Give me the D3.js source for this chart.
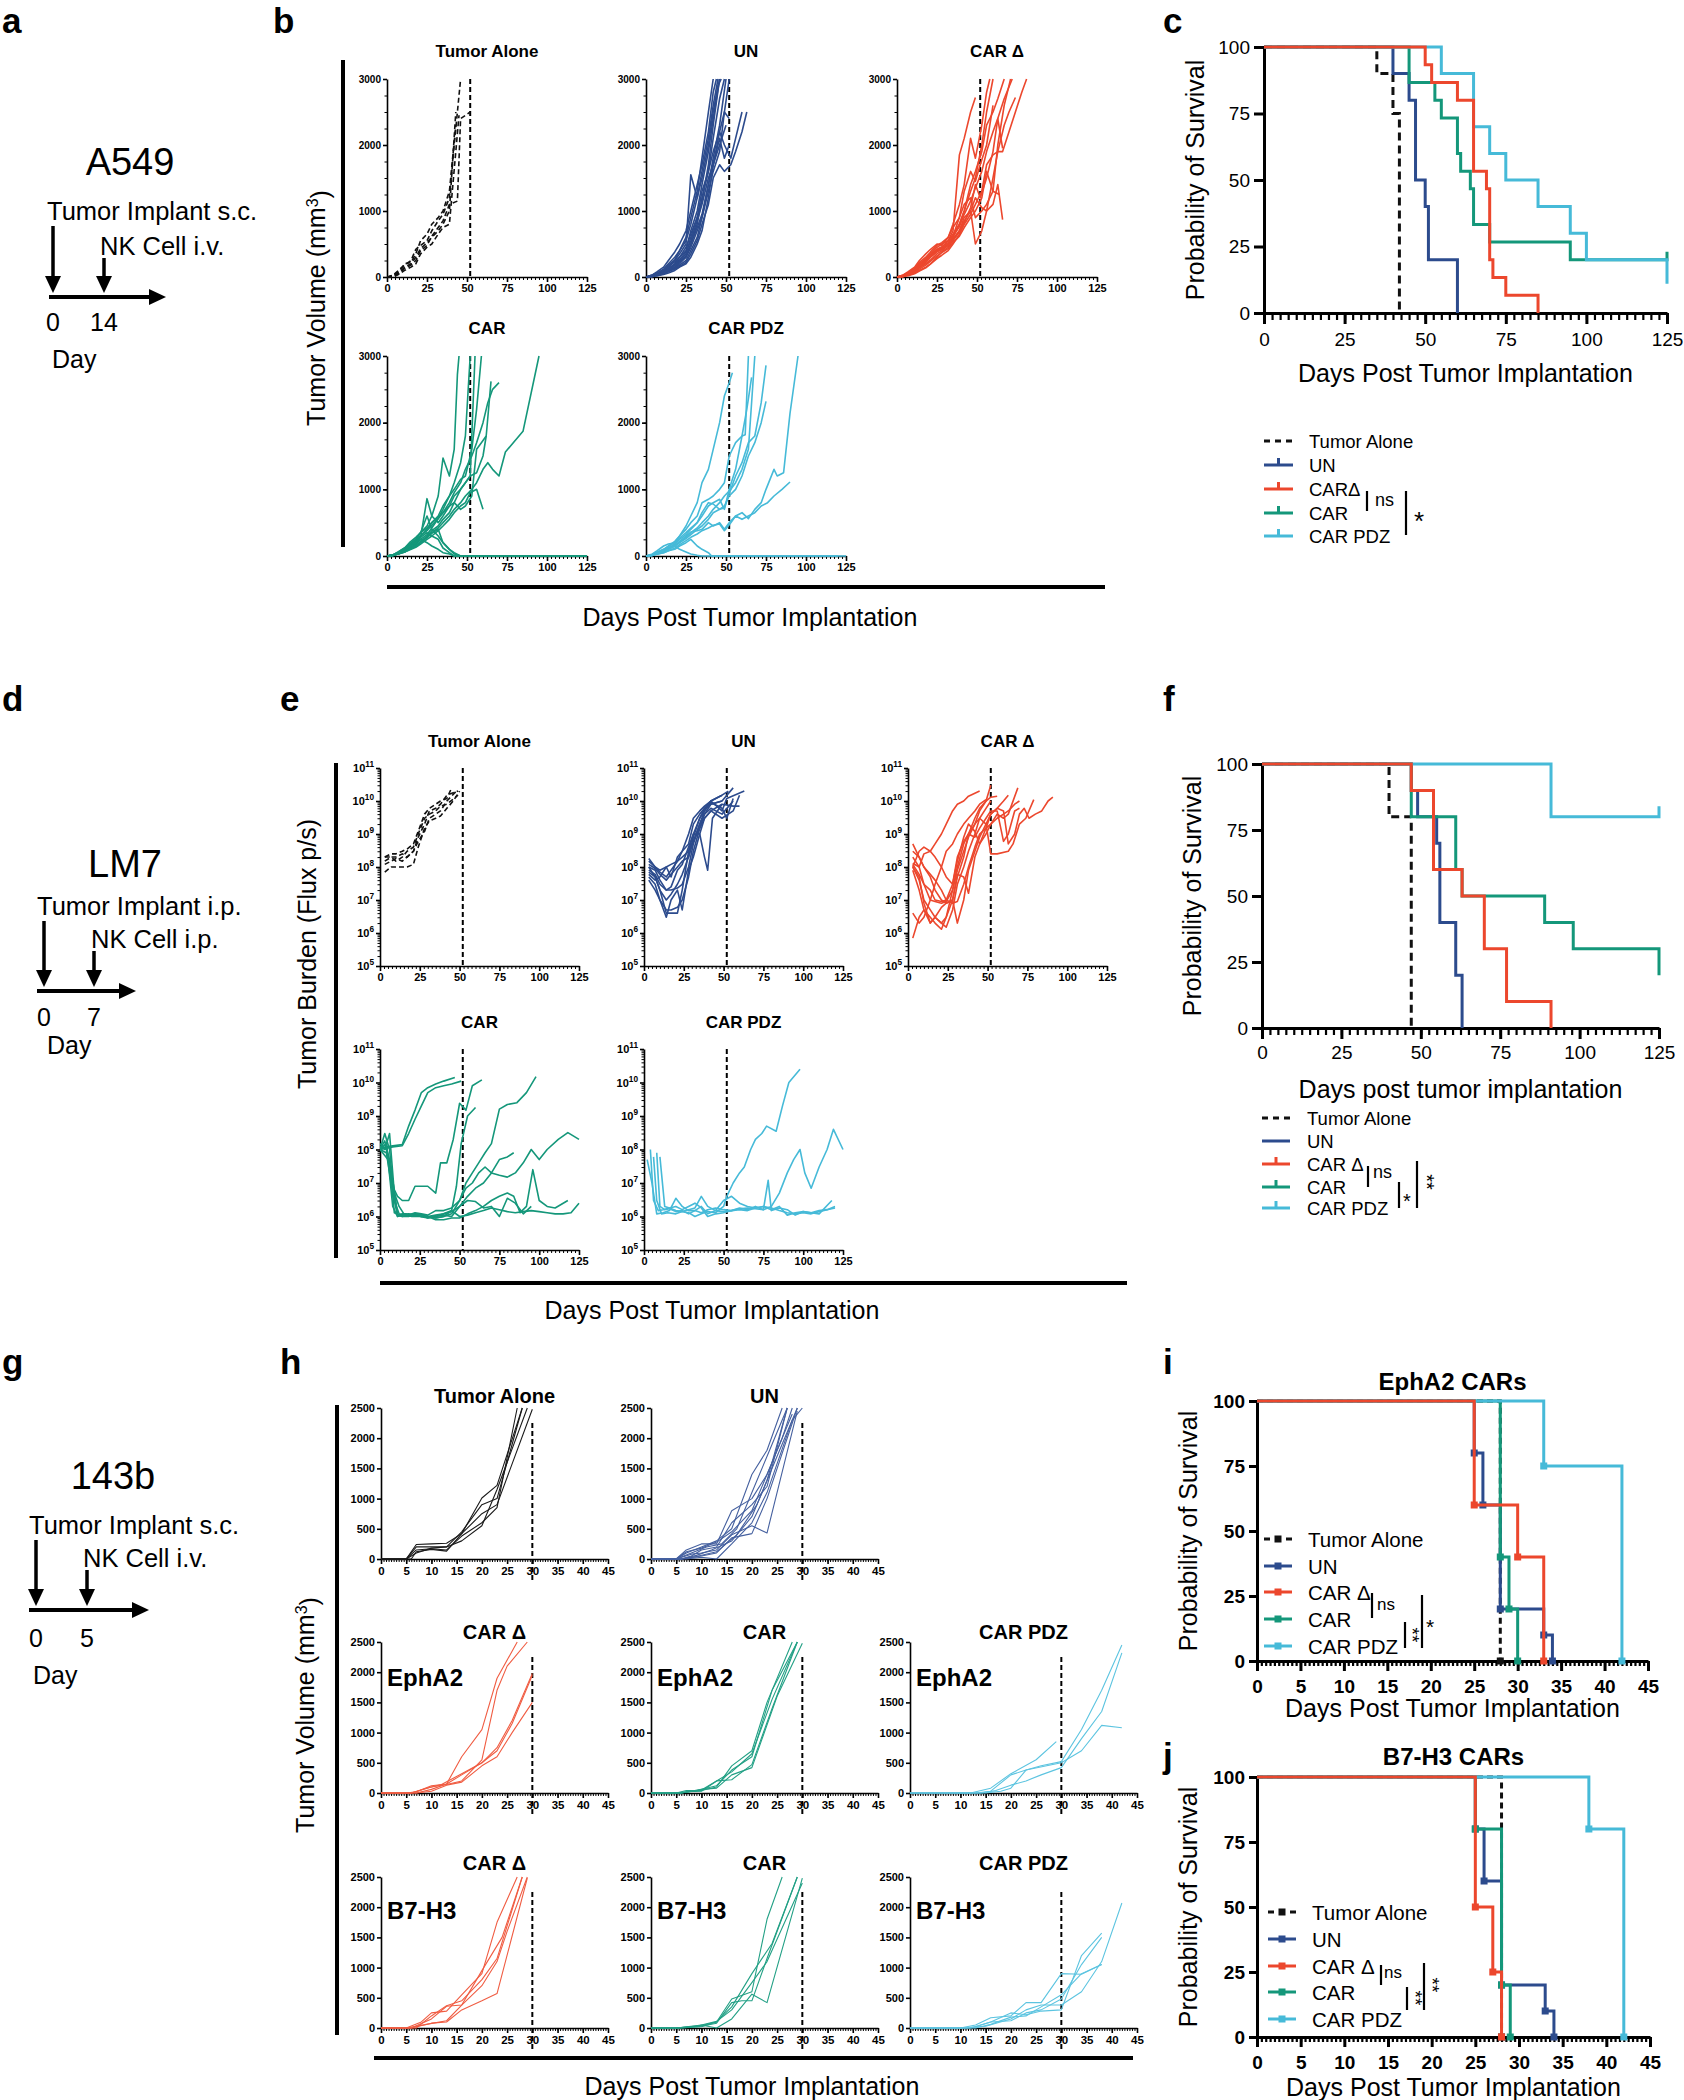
<!DOCTYPE html>
<html><head><meta charset="utf-8">
<script src="https://cdn.jsdelivr.net/npm/d3@7"></script>
<style>body{margin:0;background:#fff}svg{display:block}</style>
</head><body>
<svg id="fig" width="1684" height="2100"></svg>
<script>
// ================= DATA =================
const groupNames = ["Tumor Alone","UN","CAR Δ","CAR","CAR PDZ"];
const bDayTicks = [0,25,50,75,100,125];
const bVolTicks = [0,1000,2000,3000];
const eFluxTicks = [1e5,1e6,1e7,1e8,1e9,1e10,1e11];
const hDayTicks = [0,5,10,15,20,25,30,35,40,45];
const hVolTicks = [0,500,1000,1500,2000,2500];
const survPctTicks = [0,25,50,75,100];
const survDayTicksLong = [0,25,50,75,100,125];
const survDayTicksShort = [0,5,10,15,20,25,30,35,40,45];

// ---- panel b: A549 tumor volume (mm3) [day, volume]
const bTA = [
 [[0,0],[4,30],[8,120],[11,180],[15,250],[18,420],[21,480],[25,550],[28,700],[32,850],[35,950],[39,1200],[42,2000],[46,3000]],
 [[0,0],[4,10],[8,80],[11,150],[15,200],[18,300],[21,430],[25,520],[28,600],[32,700],[35,800],[39,1000],[43,2500]],
 [[0,0],[5,20],[8,60],[11,130],[15,180],[18,250],[21,400],[25,480],[28,620],[32,750],[35,850],[39,1100],[44,1150],[46,2400],[52,2500]],
 [[0,0],[4,20],[8,100],[11,200],[15,220],[18,350],[21,550],[25,650],[28,800],[32,900],[35,1000],[39,1300],[43,2300]],
 [[0,0],[4,0],[8,50],[11,100],[15,150],[18,200],[21,350],[25,450],[28,500],[32,650],[35,750],[39,800],[43,1900],[45,2450]]
];
const bUN = [
 [[0,0],[4,30],[7,60],[11,120],[14,200],[18,300],[21,400],[25,600],[28,900],[32,1300],[35,1800],[39,2500],[42,3000]],
 [[0,0],[4,20],[7,50],[11,100],[14,150],[18,250],[21,350],[25,500],[28,1550],[32,1200],[35,1600],[39,2100],[42,2600],[45,3000]],
 [[0,0],[4,10],[7,40],[11,80],[14,120],[18,200],[21,300],[25,400],[28,700],[32,1000],[35,1400],[39,1900],[42,2400],[46,3000]],
 [[0,0],[4,20],[7,30],[11,70],[14,100],[18,150],[21,220],[25,320],[28,500],[32,800],[35,1200],[39,1600],[42,2100],[46,2700],[49,3000]],
 [[0,0],[4,10],[7,30],[11,60],[14,100],[18,130],[21,180],[25,250],[28,400],[32,600],[35,900],[39,1400],[42,1800],[46,2300],[50,3000]],
 [[0,0],[4,30],[7,80],[11,150],[14,250],[18,380],[21,500],[25,700],[28,1000],[32,1400],[35,1700],[39,2200],[42,2800],[44,3000]],
 [[0,0],[4,10],[7,20],[11,50],[14,80],[18,120],[21,160],[25,220],[28,350],[32,550],[35,800],[39,1100],[42,1500],[46,1700],[49,1600],[53,1700],[56,1900],[60,2200],[63,2500]],
 [[0,0],[4,20],[7,50],[11,90],[14,160],[18,230],[21,300],[25,450],[28,650],[32,900],[35,1300],[39,1600],[42,1900],[46,2200],[49,2000],[53,1800],[56,2100],[60,2500]],
 [[0,0],[4,10],[7,40],[11,70],[14,130],[18,200],[21,260],[25,380],[28,550],[32,850],[35,1100],[39,1500],[42,1700],[46,2000],[50,2300]],
 [[0,0],[4,20],[7,40],[11,80],[14,120],[18,180],[21,250],[25,300],[28,450],[32,700],[35,900],[39,1300],[42,1600],[46,1900],[49,2500],[52,2400]],
 [[0,0],[4,30],[7,60],[11,100],[14,180],[18,260],[21,400],[25,550],[28,800],[32,1200],[35,1500],[39,2000],[42,2500],[45,2900],[47,3000]],
 [[0,0],[4,10],[7,20],[11,40],[14,60],[18,100],[21,150],[25,200],[28,300],[32,500],[35,700],[39,1200],[42,1700],[46,2200],[49,2500],[52,3000]],
 [[0,0],[4,20],[7,30],[11,60],[14,90],[18,140],[21,200],[25,300],[28,500],[32,750],[35,950],[39,1400],[42,1700],[46,2100],[49,1800],[52,2000]],
 [[0,0],[4,15],[7,35],[11,65],[14,110],[18,170],[21,240],[25,350],[28,600],[32,900],[35,1150],[39,1700],[42,2300],[46,3000]]
];
const bCD = [
 [[0,0],[4,20],[7,60],[11,120],[14,200],[18,280],[21,350],[25,450],[28,500],[32,550],[35,700],[39,1850],[42,2100],[46,2500],[49,2720]],
 [[0,0],[4,10],[7,40],[11,80],[14,150],[18,220],[21,300],[25,380],[28,420],[32,500],[35,600],[39,800],[42,1000],[46,1300],[49,1500],[53,2000],[56,2500],[60,3000]],
 [[0,0],[4,30],[7,80],[11,150],[14,250],[18,350],[21,420],[25,500],[28,480],[32,600],[35,750],[39,900],[42,1100],[46,1200],[49,900],[53,1000],[56,1100],[60,1300],[63,2000],[67,2600],[71,3000]],
 [[0,0],[4,10],[7,30],[11,60],[14,100],[18,150],[21,200],[25,300],[28,380],[32,450],[35,550],[39,700],[42,850],[46,1000],[49,500],[53,700],[56,1000],[60,1500],[63,1900],[67,2300],[70,2500],[74,2720]],
 [[0,0],[4,20],[7,50],[11,100],[14,170],[18,250],[21,320],[25,400],[28,450],[32,550],[35,650],[39,800],[42,1000],[46,1400],[49,1600],[53,1900],[56,2300],[60,2500],[63,2700],[67,3000]],
 [[0,0],[4,10],[7,20],[11,50],[14,90],[18,140],[21,200],[25,280],[28,330],[32,400],[35,500],[39,650],[42,800],[46,950],[49,1100],[53,1300],[56,1700],[60,1850],[63,1900],[66,1900],[70,2200],[74,2500],[78,2800],[81,3000]],
 [[0,0],[4,30],[7,70],[11,130],[14,220],[18,300],[21,380],[25,480],[28,520],[32,600],[35,800],[39,1100],[42,1400],[46,2100],[49,1800],[53,2300],[56,2800],[58,3000]],
 [[0,0],[4,20],[7,40],[11,90],[14,140],[18,200],[21,260],[25,350],[28,400],[32,480],[35,580],[39,700],[42,900],[46,1000],[49,1200],[53,1050],[56,1000],[60,1100],[63,1400],[66,870]],
 [[0,0],[4,15],[7,45],[11,100],[14,180],[18,260],[21,340],[25,420],[28,460],[32,520],[35,620],[39,760],[42,950],[46,1150],[49,1350],[53,1600],[56,1900],[60,2200],[63,2400],[67,2700],[72,3000]],
 [[0,0],[4,25],[7,55],[11,110],[14,190],[18,270],[21,330],[25,410],[28,440],[32,500],[35,620],[39,900],[42,1300],[46,1600],[49,1450],[52,1700],[56,2000],[60,2600]],
 [[0,0],[4,10],[7,35],[11,70],[14,120],[18,180],[21,240],[25,320],[28,370],[32,430],[35,520],[39,620],[42,750],[46,900],[49,1000],[53,1200],[56,1600],[60,1300],[64,1250]],
 [[0,0],[4,20],[7,50],[11,110],[14,160],[18,240],[21,310],[25,390],[28,420],[32,480],[35,560],[39,680],[42,820],[46,1050],[49,1400],[52,1200],[56,1500],[60,1900],[63,2400],[66,1950]]
];
const bCAR = [
 [[0,0],[4,20],[7,60],[11,120],[14,180],[18,250],[21,350],[25,450],[28,600],[32,900],[35,1470],[39,1200],[42,1600],[44,2720],[45,3000]],
 [[0,0],[4,10],[7,40],[11,80],[14,120],[18,180],[21,250],[25,320],[28,420],[32,560],[35,700],[39,900],[42,1100],[46,1400],[49,1800],[52,3000]],
 [[0,0],[4,15],[7,40],[11,90],[14,140],[18,200],[21,300],[25,400],[28,500],[32,600],[35,750],[39,900],[42,1000],[46,1150],[49,1200],[53,1600],[56,2200],[59,3000]],
 [[0,0],[4,20],[7,50],[11,100],[14,160],[18,220],[21,280],[25,860],[28,600],[32,500],[35,600],[39,750],[42,800],[46,700],[49,750],[53,900],[56,1600],[59,1700],[62,1800],[65,2620]],
 [[0,0],[4,10],[7,30],[11,60],[14,100],[18,150],[21,200],[25,280],[28,350],[32,420],[35,500],[39,600],[42,700],[46,800],[49,900],[53,1000],[56,1100],[60,1300],[63,1400],[66,1300],[70,1200],[74,1560],[85,1870],[95,3000]],
 [[0,0],[4,10],[7,30],[11,80],[14,150],[18,250],[21,350],[25,600],[28,400],[32,300],[35,200],[39,100],[42,30],[46,0],[125,0]],
 [[0,0],[4,20],[7,50],[11,100],[14,150],[18,200],[21,250],[25,200],[28,150],[32,100],[35,50],[39,30],[42,0],[125,0]],
 [[0,0],[4,10],[7,30],[11,60],[14,90],[18,130],[21,180],[25,250],[28,300],[32,380],[35,450],[39,550],[42,650],[46,750],[49,800],[52,950],[56,1000],[60,700]],
 [[0,0],[4,20],[7,50],[11,100],[14,170],[18,240],[21,300],[25,380],[28,460],[32,560],[35,650],[39,800],[42,950],[46,1100],[49,1300],[53,1500],[56,1700],[60,2000],[63,2300],[66,2500],[70,2600]],
 [[0,0],[4,15],[7,35],[11,70],[14,110],[18,160],[21,220],[25,300],[28,380],[32,450],[35,550],[39,650],[42,800],[46,1000],[49,1100],[52,1200],[56,1250],[60,1500],[62,1800]],
 [[0,0],[4,20],[7,60],[11,120],[14,200],[18,280],[21,350],[25,420],[28,500],[32,580],[35,650],[39,750],[42,900],[46,1000],[49,1100],[52,1200],[55,3000]],
 [[0,0],[4,10],[7,30],[11,60],[14,100],[18,150],[21,210],[25,280],[28,340],[32,400],[35,200],[39,100],[42,50],[46,0],[125,0]],
 [[0,0],[4,15],[7,40],[11,80],[14,140],[18,200],[21,280],[25,350],[28,300],[32,250],[35,120],[39,50],[42,0],[125,0]]
];
const bPDZ = [
 [[0,0],[4,30],[7,80],[11,150],[14,180],[18,200],[21,300],[25,450],[28,600],[32,800],[35,1100],[39,1300],[42,1600],[46,2000],[49,2400],[52,2600],[54,2750]],
 [[0,0],[4,20],[7,60],[11,100],[14,150],[18,220],[21,300],[25,400],[28,500],[32,600],[35,800],[39,850],[42,900],[46,1000],[49,1100],[52,1500],[56,1700],[60,1800],[62,1820],[64,3000]],
 [[0,0],[4,10],[7,40],[11,80],[14,120],[18,180],[21,250],[25,320],[28,400],[32,500],[35,600],[39,750],[42,800],[46,850],[49,700],[52,1000],[56,1300],[60,1800],[63,2200],[66,2680]],
 [[0,0],[4,20],[7,50],[11,100],[14,140],[18,200],[21,270],[25,350],[28,420],[32,500],[35,650],[39,800],[42,780],[46,700],[49,720],[53,1000],[56,1200],[60,1400],[64,1700],[68,1800],[72,2300],[75,2860]],
 [[0,0],[4,10],[7,30],[11,60],[14,100],[18,150],[21,200],[25,280],[28,350],[32,420],[35,500],[39,600],[42,700],[46,800],[49,900],[53,1000],[56,1100],[60,1300],[64,1600],[68,3000]],
 [[0,0],[4,15],[7,35],[11,70],[14,110],[18,160],[21,220],[25,300],[28,360],[32,380],[35,400],[39,500],[42,450],[46,500],[49,400],[52,500],[56,600],[60,650],[64,560],[68,700],[72,800],[75,1000],[80,1300],[82,1200],[86,1250],[90,2140],[95,3000]],
 [[0,0],[4,10],[7,25],[11,50],[14,80],[18,120],[21,170],[25,230],[28,280],[32,330],[35,380],[39,420],[42,460],[46,480],[49,380],[53,500],[56,600],[60,550],[64,600],[68,650],[72,750],[76,800],[80,900],[85,1000],[90,1110]],
 [[0,0],[4,20],[7,40],[11,80],[14,120],[18,150],[21,100],[25,60],[28,30],[32,10],[35,0],[125,0]],
 [[0,0],[4,10],[7,30],[11,50],[14,80],[18,100],[21,150],[25,200],[28,250],[32,150],[35,100],[39,50],[41,0],[120,0]],
 [[0,0],[4,15],[7,40],[11,70],[14,100],[18,150],[21,200],[25,260],[28,320],[32,400],[35,450],[39,550],[42,650],[46,700],[49,750],[52,900],[56,1000],[60,1200],[64,1500],[68,1700],[72,2000],[75,2320]]
];

// ---- panel c: A549 survival [day, % surviving]
const cTA  = [[0,100],[35,90],[40,75],[42,0]];
const cUN  = [[0,100],[40,90],[45,80],[47,50],[50,40],[51,20],[60,0]];
const cCD  = [[0,100],[50,93.3],[52,86.7],[60,80],[65,53.3],[69,46.7],[70,20],[71,13.3],[75,6.7],[85,0]];
const cCAR = [[0,100],[45,86.7],[53,80],[55,73.3],[60,60],[61,53.3],[64,46.7],[65,33.3],[70,26.7],[95,20],[125,20],[125,23]];
const cPDZ = [[0,100],[55,90],[65,70],[70,60],[75,50],[85,40],[95,30],[100,20],[125,20],[125,11]];

// ---- panel e: LM7 tumor burden (flux p/s) [day, flux]
const eTA = [
 [[3,2e8],[7,2.5e8],[10,2.5e8],[14,3e8],[17,3.5e8],[21,5e8],[24,1.2e9],[28,4e9],[31,6e9],[35,8e9],[38,1e10],[42,1.2e10],[45,2.5e10]],
 [[3,1.5e8],[7,2e8],[10,2e8],[14,2.5e8],[17,2e8],[21,3e8],[24,8e8],[28,2e9],[31,5e9],[35,6e9],[38,8e9],[42,1.5e10],[49,2e10]],
 [[3,7e7],[7,1e8],[10,1e8],[14,1e8],[17,1e8],[21,1.2e8],[24,4e8],[28,1.5e9],[31,2.5e9],[35,3e9],[38,3.5e9],[42,6e9],[46,1e10],[50,2e10]],
 [[3,2e8],[7,2e8],[10,1.5e8],[14,2e8],[17,3e8],[21,4e8],[24,1e9],[28,3e9],[31,4e9],[35,5e9],[38,7e9],[42,8e9],[49,1.5e10]],
 [[3,1.2e8],[7,1.5e8],[10,1.8e8],[14,1.5e8],[17,2e8],[21,3e8],[24,6e8],[28,1.2e9],[31,3e9],[35,4e9],[38,5e9],[42,1e10],[48,2e10]]
];
const eUN = [
 [[3,1.5e8],[7,1e8],[10,7e7],[14,5e7],[17,8e7],[21,1.5e8],[24,3e8],[28,1e9],[31,3e9],[35,5e9],[38,7e9],[42,1e10],[49,1.5e10],[53,2e10]],
 [[3,1e8],[7,5e7],[10,2e7],[14,4e6],[17,4e6],[21,4e6],[24,2e7],[28,3e8],[31,1e9],[35,3e9],[38,6e9],[42,8e9],[49,1e10],[56,2.5e10]],
 [[3,5e7],[7,3e7],[10,1e7],[14,3e6],[17,1e7],[21,2e7],[24,5e6],[28,8e7],[31,2e8],[35,1e9],[38,3e9],[42,5e9],[49,8e9],[56,7e9],[60,7e9]],
 [[3,1.8e8],[7,1e8],[10,8e7],[14,1e8],[17,5e7],[21,2e8],[24,3e8],[28,5e8],[31,2e9],[35,4e9],[38,6e9],[42,1e10],[49,5e9],[52,1.2e10],[63,2e10]],
 [[3,8e7],[7,6e7],[10,3e7],[14,2e7],[17,2e7],[21,2.3e7],[24,3e7],[28,1e8],[31,5e8],[35,2e9],[38,4e9],[42,6e9],[49,4e9],[56,1e10]],
 [[3,6e7],[7,4e7],[10,5e7],[14,1e8],[17,1.2e8],[21,1.5e8],[24,2e8],[28,3e8],[31,6e8],[35,1.5e9],[38,3e9],[42,5e9],[49,3e9],[56,5e9],[60,1.5e10]],
 [[3,1e8],[7,8e7],[10,4e7],[14,2e7],[17,2.5e7],[21,8e7],[24,1.2e8],[28,4e8],[31,1e9],[35,1e9],[38,2e8],[40,8e7],[43,3e9],[49,8e9]],
 [[3,4e7],[7,2e7],[10,1e7],[14,5e6],[17,5e6],[21,6e6],[24,1e7],[28,5e7],[31,3e8],[35,1.5e9],[38,4e9],[42,8e9],[49,1e10]],
 [[3,1.2e8],[7,9e7],[10,6e7],[14,4e7],[17,6e7],[21,1e8],[24,1.5e8],[28,2e8],[31,8e8],[35,3e9],[38,5e9],[42,9e9],[49,6e9],[52,3e9],[56,1.2e10]],
 [[3,7e7],[7,5e7],[10,2e7],[14,1e7],[17,1.5e7],[21,3e7],[24,6e7],[28,2e8],[31,6e8],[35,2e9],[38,5e9],[42,1e10],[49,1.5e10]]
];
const eCD = [
 [[3,1e8],[7,4e7],[10,1e7],[14,5e6],[17,3e6],[21,2e6],[24,3e6],[28,2e7],[31,1e8],[35,5e8],[38,1e9],[42,2e9],[45,5e9],[49,1e10],[52,3e10]],
 [[3,5e8],[7,2e8],[10,1e8],[14,5e7],[17,2e7],[21,1e7],[24,8e6],[28,1e7],[31,5e7],[35,2e8],[38,1e9],[42,3e9],[45,6e9],[49,1e10],[52,1.3e10],[56,1.4e10]],
 [[3,1.3e8],[7,1e8],[10,2.5e8],[14,3e8],[17,5e8],[21,1e9],[24,2e9],[28,5e9],[31,8e9],[35,1e10],[38,1.4e10],[45,2e10]],
 [[3,7e5],[7,3e6],[10,5e6],[14,2e6],[17,3e6],[21,2e6],[24,1.5e6],[28,5e6],[31,3e7],[35,1e8],[38,3e8],[42,1e9],[45,3e9],[49,6e9],[52,1e10]],
 [[3,1e8],[7,3e8],[10,4e8],[14,3e8],[17,2e8],[21,1e8],[24,5e7],[28,3e7],[31,1.5e8],[35,8e8],[38,2e9],[42,1.2e9],[45,5e8],[49,1e9],[52,2e9],[56,4e9],[60,3e9],[63,4e9],[69,2.5e10]],
 [[3,8e7],[7,2e7],[10,5e6],[14,3e6],[17,2e6],[21,1.3e6],[24,3e6],[28,1e7],[31,6e7],[35,5e7],[38,1.6e7],[42,2e8],[45,5e8],[49,1.5e9],[52,4e9],[56,6e9],[60,1e10],[63,1.5e10]],
 [[3,2e8],[7,1e8],[10,3e7],[14,1e7],[17,9e6],[21,8e6],[24,9e6],[28,2e7],[31,8e7],[35,3e8],[38,8e8],[42,2e9],[45,3e9],[49,2e9],[52,2.5e8],[56,2.5e8],[63,3e8],[66,5e8],[70,2e9],[74,3e9],[79,1.1e10]],
 [[3,4e6],[7,2e6],[10,3e6],[14,1e7],[17,3e7],[21,1e8],[24,3e8],[28,5e8],[31,1e9],[35,2e9],[38,3e9],[42,5e9],[45,8e9],[49,1.1e10]],
 [[3,1.2e8],[7,6e7],[10,3e7],[14,2e7],[17,1e7],[21,9e6],[24,1e7],[28,3e7],[31,2e8],[35,6e8],[38,1e9],[42,8e8],[45,1.5e9],[49,3e9],[52,5e9],[56,5e9],[60,6e8],[63,1e9],[67,5e9],[70,6e9]],
 [[3,3e8],[7,2e8],[10,1e8],[14,6e7],[17,4e7],[21,2e7],[24,1e7],[28,8e6],[31,9e6],[35,3e7],[38,1e8],[42,4e8],[45,1e9],[49,1.5e9],[52,2e9],[56,3e9],[60,4e9],[63,5e9],[67,8e9],[70,1e10]],
 [[3,1e8],[7,5e7],[10,8e6],[14,2e6],[17,3e6],[21,6e6],[24,8e6],[28,1e7],[31,2e6],[35,1e7],[38,8e7],[42,3e8],[45,8e8],[49,2e9],[52,4e9],[56,6e9],[60,5e9],[63,5e8],[67,1e9],[70,4e9],[73,6e9],[76,3e9],[80,4e9],[84,5e9],[88,1e10],[91,1.3e10]]
];
const eCAR = [
 [[0,1e8],[4,1.2e8],[8,1.3e8],[14,1.4e8],[18,5e8],[22,1.5e9],[26,5e9],[30,7e9],[35,9e9],[40,1.1e10],[47,1.4e10]],
 [[0,1e8],[4,1.1e8],[8,1.2e8],[14,1.3e8],[18,3e8],[22,8e8],[26,2e9],[30,5e9],[35,7e9],[40,8e9],[45,9e9],[51,1.1e10]],
 [[0,1.5e8],[3,1e8],[6,3e8],[9,5e6],[12,2e6],[15,1.2e6],[18,1.1e6],[22,1.2e6],[26,1e6],[30,1e6],[35,9e5],[40,1e6],[45,1.5e6],[48,8e6],[51,1.5e8],[55,1e9],[60,1.8e9]],
 [[0,1e8],[5,5e7],[8,1.2e7],[11,1.2e6],[14,1e6],[18,1.1e6],[22,1.2e6],[26,1.1e6],[30,1e6],[35,9e5],[40,1e6],[45,1.2e6],[50,3e6],[54,7e6],[58,1e7],[62,2e7],[66,3e7],[70,2e7],[75,5e7],[80,6e7],[84,8e7]],
 [[0,1e8],[4,1.5e8],[7,1e7],[11,4e6],[14,3e6],[18,3e6],[22,8e6],[26,8e6],[30,8e6],[35,5e6],[38,4e7],[42,4e7],[46,2e8],[50,2.4e9],[54,1.5e9],[58,8e9],[64,1.2e10]],
 [[0,1e8],[3,1.8e8],[6,5e7],[9,1.3e6],[12,1.1e6],[16,1.2e6],[20,1.1e6],[25,1.1e6],[30,1e6],[35,8e5],[40,8e5],[45,9e5],[50,9e5],[55,1.2e6],[60,1.5e6],[65,2e6],[70,3e6],[75,4e6],[80,5e6],[84,4e6],[88,1.3e6],[92,2e6],[96,2.5e7],[100,3e6],[105,2e6],[110,1.8e6],[118,3e6]],
 [[0,1.2e8],[4,1e8],[8,1.2e7],[11,1e6],[14,1.2e6],[18,1.1e6],[22,1.3e6],[26,1.2e6],[30,1.1e6],[35,1.5e6],[40,1.5e6],[45,1.8e6],[50,3e6],[54,1e7],[58,2e7],[62,4e7],[66,8e7],[70,1.5e8],[75,1.6e9],[80,2.2e9],[86,2.5e9],[92,5e9],[98,1.5e10]],
 [[0,1e8],[3,3e8],[6,1e8],[9,3e6],[12,1.2e6],[16,1.1e6],[20,1e6],[25,1e6],[30,9e5],[35,1e6],[40,1.1e6],[45,1e6],[50,2e6],[55,4e6],[60,7e6],[65,1e7],[70,2e7],[75,1.7e7],[80,1.5e7],[85,2e7],[90,4e7],[95,1e8],[100,5e7],[105,1e8],[112,2e8],[118,3.2e8],[125,2e8]],
 [[0,1e8],[4,1.5e8],[8,2e6],[11,1e6],[14,1.1e6],[18,1.2e6],[22,1.1e6],[26,1e6],[30,1e6],[35,1.1e6],[40,1.2e6],[45,1.5e6],[50,1e6],[55,1.1e6],[60,1.3e6],[65,1.5e6],[70,1.8e6],[75,1.6e6],[80,1.4e6],[85,1.3e6],[90,1.4e6],[95,1.5e6],[100,1.4e6],[105,1.3e6],[110,1.2e6],[115,1.2e6],[120,1.3e6],[125,2.5e6]],
 [[0,1e8],[4,8e7],[8,5e6],[11,1.1e6],[14,1e6],[18,1e6],[22,1.2e6],[26,1.1e6],[30,9e5],[35,1e6],[40,1.2e6],[45,1.4e6],[50,2e6],[55,3e6],[60,2.8e6],[65,1.8e6],[70,2e6],[75,1e6],[80,3.5e6],[85,2.5e6],[90,1.2e6],[95,2e6]]
];
const ePDZ = [
 [[2,5e7],[5,1e7],[8,1.2e6],[12,1.3e6],[16,1.5e6],[20,3.5e6],[24,2e6],[28,1.5e6],[32,1.5e6],[36,2e6],[40,1.2e6],[45,1.5e6],[50,3e6],[55,4e6],[60,2.5e6],[65,2e6],[70,1.8e6],[75,2e6],[80,1.8e6],[85,1.5e6],[90,1.3e6],[95,1.2e6],[100,1.3e6],[105,1.2e6],[110,1.4e6],[115,1.6e6],[120,2e6]],
 [[4,1e8],[6,3e6],[9,1.5e6],[12,1.6e6],[16,1.8e6],[20,1.5e6],[24,1.4e6],[28,1.6e6],[32,1.8e6],[36,4e6],[40,2e6],[45,1.5e6],[50,1.4e6],[55,1.5e6],[60,1.8e6],[65,1.6e6],[70,2e6],[75,1.6e6],[78,1.2e7],[80,1.5e6],[85,1.8e6],[90,1.6e6],[95,1.1e6],[100,1.4e6],[105,1.3e6],[110,1.2e6],[118,3e6]],
 [[6,6e7],[8,3e6],[11,1.2e6],[15,1.3e6],[20,1.2e6],[24,1.4e6],[28,1.3e6],[32,1e6],[36,1.2e6],[40,1.4e6],[45,1.3e6],[50,2e6],[52,4e6],[56,1e7],[60,2e7],[63,3e7],[67,1e8],[70,2e8],[74,3e8],[77,5e8],[83,3.5e8],[87,2e9],[91,1e10],[98,2.5e10]],
 [[8,8e7],[10,2e6],[13,1.6e6],[16,1.7e6],[20,1.4e6],[24,1.5e6],[28,1.2e6],[32,1.5e6],[36,1.3e6],[40,1.6e6],[45,1.8e6],[50,1.6e6],[55,1.5e6],[60,1.7e6],[65,1.8e6],[70,1.7e6],[75,1.6e6],[80,2e6],[85,5e6],[90,2e7],[94,5e7],[98,1e8],[101,2e7],[105,7e6],[110,3e7],[115,1e8],[119,4e8],[125,1e8]],
 [[10,6e7],[13,2e6],[16,1.8e6],[20,2e6],[24,1.6e6],[28,2e6],[32,2.5e6],[36,1.8e6],[40,1e6],[45,1.2e6],[50,1.3e6],[55,1.5e6],[60,1.6e6],[65,1.5e6],[70,1.8e6],[75,2e6],[80,1.6e6],[85,2e6],[90,1.1e6],[95,1.3e6],[100,1.4e6],[105,1.3e6],[110,1.5e6],[115,1.6e6],[120,1.8e6]]
];

// ---- panel f: LM7 survival
const fTA  = [[0,100],[40,80],[47,0]];
const fUN  = [[0,100],[47,90],[49,80],[55,70],[56,40],[61,20],[63,0]];
const fCD  = [[0,100],[47,90],[54,60],[63,50],[70,30],[77,10],[91,0]];
const fCAR = [[0,100],[47,80],[61,60],[63,50],[89,40],[98,30],[125,20]];
const fPDZ = [[0,100],[91,80],[125,80],[125,84]];

// ---- panel h: 143b tumor volume (mm3)
const hTA = [
 [[0,0],[5,0],[7,240],[10,250],[13,260],[16,420],[20,1010],[23,1220],[28,2500]],
 [[0,0],[5,0],[7,150],[10,170],[13,150],[16,380],[20,600],[23,850],[27,2500]],
 [[0,0],[5,0],[7,100],[10,180],[13,200],[16,450],[20,900],[23,1000],[28,2500]],
 [[0,0],[5,0],[7,200],[10,200],[13,200],[16,300],[20,550],[23,1150],[29,2500]],
 [[0,0],[6,0],[7,120],[10,160],[13,130],[16,420],[20,750],[23,900],[30,2480]]
];
const hUN = [
 [[0,0],[5,0],[7,150],[10,250],[13,250],[16,800],[20,1000],[23,1400],[26,2000],[28,2500]],
 [[0,0],[5,0],[7,100],[10,200],[13,300],[16,500],[20,1400],[23,1800],[26,2500]],
 [[0,0],[6,0],[8,50],[10,150],[13,200],[16,600],[20,900],[23,1200],[27,2500]],
 [[0,0],[5,0],[8,80],[10,100],[13,150],[16,400],[20,550],[23,430],[29,2450]],
 [[0,0],[6,0],[10,50],[13,100],[16,350],[20,420],[23,1000],[29,2500]],
 [[0,0],[5,0],[7,120],[10,180],[13,280],[16,450],[20,800],[24,1600],[28,2400]],
 [[0,0],[6,0],[9,60],[12,150],[16,300],[20,700],[23,1300],[27,2500]],
 [[0,0],[7,0],[10,30],[13,0],[16,250],[20,600],[23,1100],[28,2300],[30,2500]],
 [[0,0],[5,0],[8,100],[11,200],[14,250],[17,500],[20,1100],[24,1900],[27,2500]],
 [[0,0],[6,0],[9,40],[13,120],[17,400],[21,900],[25,1700],[29,2500]]
];
const hCDEph = [
 [[0,0],[5,0],[7,20],[10,120],[13,150],[16,600],[20,1050],[23,1900],[27,2500]],
 [[0,0],[6,0],[8,50],[10,100],[13,140],[16,200],[20,550],[23,1700],[25,2100],[29,2500]],
 [[0,0],[7,0],[10,60],[13,150],[16,300],[20,500],[23,750],[26,1200],[30,1980]],
 [[0,0],[7,0],[10,30],[13,130],[16,180],[20,450],[23,600],[26,1000],[30,1500]],
 [[0,0],[6,0],[9,80],[12,140],[16,320],[20,500],[23,700],[26,1150],[30,1950]]
];
const hCAREph = [
 [[0,0],[5,0],[7,40],[10,40],[13,100],[16,450],[20,700],[23,1500],[28,2500]],
 [[0,0],[6,0],[8,30],[10,50],[13,200],[16,350],[20,650],[24,1550],[29,2500]],
 [[0,0],[5,0],[7,20],[10,30],[13,200],[16,220],[20,470],[24,1400],[29,2500]],
 [[0,0],[6,0],[10,60],[13,80],[16,300],[20,420],[25,1600],[30,2480]],
 [[0,0],[6,0],[9,40],[13,120],[16,380],[20,600],[24,1700],[29,2500]]
];
const hPDZEph = [
 [[0,0],[13,0],[16,30],[20,300],[23,380],[30,500],[34,700],[38,1120],[42,1080]],
 [[0,0],[12,0],[16,80],[20,320],[25,550],[29,850]],
 [[0,0],[14,0],[17,40],[20,130],[23,200],[26,300],[30,420],[34,900],[38,1350],[42,2320]],
 [[0,0],[15,0],[18,30],[20,80],[23,380],[26,450],[30,520],[34,1050],[38,1700],[42,2450]]
];
const hCDB7 = [
 [[0,0],[5,0],[8,100],[10,250],[13,280],[16,550],[20,900],[23,1750],[27,2500]],
 [[0,0],[6,0],[10,150],[13,360],[16,380],[20,700],[23,1100],[25,1600],[29,2500]],
 [[0,0],[7,0],[10,200],[13,370],[16,450],[20,800],[23,1150],[28,2500]],
 [[0,0],[6,0],[10,80],[13,100],[16,300],[20,450],[23,570],[29,2480]],
 [[0,0],[5,0],[9,60],[13,120],[16,380],[20,950],[24,1500],[28,2500]]
];
const hCARB7 = [
 [[0,0],[5,0],[10,40],[13,100],[16,480],[20,600],[23,1800],[26,2500]],
 [[0,0],[6,0],[10,30],[13,80],[16,420],[18,450],[20,450],[23,1150],[29,2500]],
 [[0,0],[5,0],[10,50],[13,0],[16,150],[20,560],[23,420],[30,2480]],
 [[0,0],[6,0],[10,20],[13,100],[16,350],[20,900],[24,1400],[29,2500]],
 [[0,0],[5,0],[9,30],[13,110],[16,300],[20,750],[23,1100],[30,2400]]
];
const hPDZB7 = [
 [[0,0],[10,0],[13,50],[16,170],[20,200],[23,420],[26,420],[30,900],[34,890],[38,1050]],
 [[0,0],[12,0],[16,100],[20,250],[23,220],[26,280],[30,300],[34,1200],[38,1570]],
 [[0,0],[11,0],[15,30],[20,150],[23,300],[26,380],[30,380],[34,600],[38,1100],[42,2070]],
 [[0,0],[13,0],[16,60],[20,180],[23,200],[26,350],[30,550],[34,900],[38,1050]],
 [[0,0],[10,0],[13,20],[16,100],[20,120],[23,250],[26,300],[30,480],[34,1050],[38,1500]]
];

// ---- panels i, j: 143b survival
const iTA  = [[0,100],[28,0]];
const iUN  = [[0,100],[25,80],[26,60],[28,20],[33,10],[34,0]];
const iCD  = [[0,100],[25,60],[30,40],[33,0]];
const iCAR = [[0,100],[28,40],[29,20],[30,0]];
const iPDZ = [[0,100],[33,75],[42,0]];
const jTA  = [[0,100],[28,0]];
const jUN  = [[0,100],[25,80],[26,60],[28,20],[33,10],[34,0]];
const jCD  = [[0,100],[25,50],[27,25],[28,0]];
const jCAR = [[0,100],[25,80],[28,20],[29,0]];
const jPDZ = [[0,100],[38,80],[42,0]];

// ================= DRAWING =================
const FONT = "'Liberation Sans', Arial, Helvetica, sans-serif";
const COL = {ta:"#111111", un:"#2c4b8d", cd:"#ec472d", car:"#14977a", pdz:"#46bad8"};
const HCOL = {ta:"#1a1a1a", un:"#45609f", cd:"#f05c42", car:"#22a085", pdz:"#5cc4e0"};
const svg = d3.select("#fig").attr("font-family", FONT);
svg.append("rect").attr("width",1684).attr("height",2100).attr("fill","#fff");
let clipN = 0;

function txt(x,y,s,o={}){
  const t = svg.append("text").attr("x",x).attr("y",y).text(s)
    .attr("font-size",o.fs||20).attr("font-weight",o.fw||"normal")
    .attr("text-anchor",o.anchor||"start").attr("fill",o.fill||"#000");
  if(o.rot){ t.attr("transform",`rotate(${o.rot},${x},${y})`); }
  if(o.db) t.attr("dominant-baseline",o.db);
  return t;
}
function styleAxis(a, sw, fs, fw){
  a.attr("font-family",FONT);
  a.select(".domain").attr("stroke","#000").attr("stroke-width",sw);
  a.selectAll(".tick line").attr("stroke","#000").attr("stroke-width",sw);
  a.selectAll(".tick text").attr("font-size",fs).attr("font-weight",fw).attr("fill","#000").attr("font-family",FONT);
}
function range(a,b,s){ const r=[]; for(let v=a; v<=b+1e-9; v+=s) r.push(+v.toFixed(3)); return r; }

function spaghetti(p){
  const g = svg.append("g");
  const x = d3.scaleLinear().domain(p.xd).range([p.x0, p.x0+p.w]);
  const y = (p.log ? d3.scaleLog() : d3.scaleLinear()).domain(p.yd).range([p.yb, p.yt]);
  if(p.xMinor){
    const m = g.append("g").attr("transform",`translate(0,${p.yb})`)
      .call(d3.axisBottom(x).tickValues(p.xMinor).tickSize(p.minT||3).tickFormat("").tickSizeOuter(0));
    m.select(".domain").remove(); m.selectAll("line").attr("stroke","#000").attr("stroke-width",1);
  }
  if(p.yMinor){
    const m = g.append("g").attr("transform",`translate(${p.x0},0)`)
      .call(d3.axisLeft(y).tickValues(p.yMinor).tickSize(2.5).tickFormat("").tickSizeOuter(0));
    m.select(".domain").remove(); m.selectAll("line").attr("stroke","#000").attr("stroke-width",1);
  }
  const ax = g.append("g").attr("transform",`translate(0,${p.yb})`)
    .call(d3.axisBottom(x).tickValues(p.xMajor).tickSize(p.majT||5).tickSizeOuter(0).tickPadding(p.xpad||2));
  styleAxis(ax, 1.6, p.fsX, "bold");
  const ay = g.append("g").attr("transform",`translate(${p.x0},0)`)
    .call(d3.axisLeft(y).tickValues(p.yMajor).tickSize(4).tickSizeOuter(0).tickPadding(2)
      .tickFormat(p.log ? (()=>"") : d3.format("d")));
  styleAxis(ay, 1.6, p.fsY, "bold");
  if(p.log){
    ay.selectAll(".tick text").each(function(d){
      const t = d3.select(this); t.text("10");
      t.append("tspan").attr("dy","-0.55em").attr("font-size",p.fsY*0.75).text(Math.round(Math.log10(d)));
    });
  }
  const rTop = p.refTop!=null ? y(p.refTop) : p.yt;
  g.append("line").attr("x1",x(p.ref)).attr("x2",x(p.ref)).attr("y1",rTop).attr("y2",p.yb+(p.refExt||0))
    .attr("stroke","#000").attr("stroke-width",2).attr("stroke-dasharray","5,3");
  const id = "clip"+(clipN++);
  svg.append("clipPath").attr("id",id).append("rect")
    .attr("x",p.x0).attr("y",p.yt-2).attr("width",p.w+2).attr("height",p.yb-p.yt+3);
  const line = d3.line().x(d=>x(d[0])).y(d=>y(d[1]));
  g.append("g").attr("clip-path",`url(#${id})`).selectAll("path").data(p.lines).join("path")
    .attr("d",line).attr("fill","none").attr("stroke",p.color).attr("stroke-width",p.sw||1.6)
    .attr("stroke-dasharray",p.dash||null).attr("stroke-linejoin","round").attr("opacity",p.op||1);
  txt(p.x0+p.w/2, p.titleY, p.title, {fs:p.titleFs, fw:"bold", anchor:"middle"});
  if(p.inner) txt(p.x0+6, p.innerY, p.inner, {fs:24, fw:"bold"});
}

// ---------- panel b ----------
const bX = [387,646,897], bW = 200, bR = [[79,277],[356,556]], bTY = [57,334];
const bPanels = [
  {c:0,r:0,lines:bTA,color:COL.ta,dash:"5,3",title:groupNames[0]},
  {c:1,r:0,lines:bUN,color:COL.un,title:groupNames[1]},
  {c:2,r:0,lines:bCD,color:COL.cd,title:groupNames[2]},
  {c:0,r:1,lines:bCAR,color:COL.car,title:groupNames[3]},
  {c:1,r:1,lines:bPDZ,color:COL.pdz,title:groupNames[4]}
];
bPanels.forEach(q=>spaghetti({x0:bX[q.c],w:bW,yt:bR[q.r][0],yb:bR[q.r][1],xd:[0,125],yd:[0,3000],
  lines:q.lines,color:q.color,dash:q.dash,sw:1.6,ref:52,
  xMajor:bDayTicks,xMinor:range(0,125,2.5),yMajor:bVolTicks,yMinor:range(0,3000,250),
  fsX:11,fsY:10,title:q.title,titleY:bTY[q.r],titleFs:17}));

// ---------- panel e ----------
const eX = [380,644,908], eW = 199, eR = [[768,966],[1049,1250]], eTY = [747,1028];
const eMinor = []; [5,6,7,8,9,10].forEach(k=>[2,3,4,5,6,7,8,9].forEach(m=>eMinor.push(m*Math.pow(10,k))));
const ePanels = [
  {c:0,r:0,lines:eTA,color:COL.ta,dash:"5,3",title:groupNames[0]},
  {c:1,r:0,lines:eUN,color:COL.un,title:groupNames[1]},
  {c:2,r:0,lines:eCD,color:COL.cd,title:groupNames[2]},
  {c:0,r:1,lines:eCAR,color:COL.car,title:groupNames[3]},
  {c:1,r:1,lines:ePDZ,color:COL.pdz,title:groupNames[4]}
];
ePanels.forEach(q=>spaghetti({x0:eX[q.c],w:eW,yt:eR[q.r][0],yb:eR[q.r][1],xd:[0,125],yd:[1e5,1e11],log:true,
  lines:q.lines,color:q.color,dash:q.dash,sw:1.6,ref:52,
  xMajor:bDayTicks,xMinor:range(0,125,2.5),yMajor:eFluxTicks,yMinor:eMinor,
  fsX:11,fsY:11,title:q.title,titleY:eTY[q.r],titleFs:17}));

// ---------- panel h ----------
const hX = [381,651,910], hW = 227, hR = [[1408,1559],[1642,1793],[1877,2028]], hTY = [1403,1639,1870];
const hPanels = [
  {c:0,r:0,lines:hTA,color:HCOL.ta,title:"Tumor Alone"},
  {c:1,r:0,lines:hUN,color:HCOL.un,title:"UN"},
  {c:0,r:1,lines:hCDEph,color:HCOL.cd,title:"CAR Δ",inner:"EphA2"},
  {c:1,r:1,lines:hCAREph,color:HCOL.car,title:"CAR",inner:"EphA2"},
  {c:2,r:1,lines:hPDZEph,color:HCOL.pdz,title:"CAR PDZ",inner:"EphA2"},
  {c:0,r:2,lines:hCDB7,color:HCOL.cd,title:"CAR Δ",inner:"B7-H3"},
  {c:1,r:2,lines:hCARB7,color:HCOL.car,title:"CAR",inner:"B7-H3"},
  {c:2,r:2,lines:hPDZB7,color:HCOL.pdz,title:"CAR PDZ",inner:"B7-H3"}
];
const hInnerY = [0,1686,1919];
hPanels.forEach(q=>spaghetti({x0:hX[q.c],w:hW,yt:hR[q.r][0],yb:hR[q.r][1],xd:[0,45],yd:[0,2500],
  lines:q.lines,color:q.color,sw:1.1,ref:30,refTop:2250,refExt:24,
  xMajor:hDayTicks,xMinor:range(0,45,0.5),minT:3,majT:5,xpad:3,yMajor:hVolTicks,
  fsX:11.5,fsY:11,title:q.title,titleY:hTY[q.r],titleFs:20,inner:q.inner,innerY:hInnerY[q.r]}));

// ---------- group frames (bars) and shared axis titles ----------
function bar(x1,y1,x2,y2){ svg.append("line").attr("x1",x1).attr("y1",y1).attr("x2",x2).attr("y2",y2).attr("stroke","#000").attr("stroke-width",4); }
bar(343,60,343,547); bar(387,587,1105,587);
bar(336,763,336,1258); bar(380,1283,1127,1283);
bar(337,1405,337,2035); bar(374,2058,1133,2058);
txt(750,626,"Days Post Tumor Implantation",{fs:25,anchor:"middle"});
txt(712,1319,"Days Post Tumor Implantation",{fs:25,anchor:"middle"});
txt(752,2095,"Days Post Tumor Implantation",{fs:25,anchor:"middle"});
function yTitle(x,y,s,fs){
  return svg.append("text").attr("transform",`translate(${x},${y}) rotate(-90)`).attr("text-anchor","middle")
    .attr("dy","0.35em").attr("font-size",fs).text(s);
}
{ const t=yTitle(316,308,"Tumor Volume (mm",25); t.append("tspan").attr("dy","-0.45em").attr("font-size",16).text("3"); t.append("tspan").attr("dy","0.45em").text(")"); }
yTitle(307,954,"Tumor Burden (Flux p/s)",25);
{ const t=yTitle(305,1715,"Tumor Volume (mm",25); t.append("tspan").attr("dy","-0.45em").attr("font-size",16).text("3"); t.append("tspan").attr("dy","0.45em").text(")"); }

// ---------- survival panels ----------
function survival(p){
  const g = svg.append("g");
  const x = d3.scaleLinear().domain([0,p.xmax]).range([p.x0,p.x1]);
  const y = d3.scaleLinear().domain([0,100]).range([p.yb,p.yt]);
  const m = g.append("g").attr("transform",`translate(0,${p.yb})`)
    .call(d3.axisBottom(x).tickValues(p.minor).tickSize(p.minT).tickFormat("").tickSizeOuter(0));
  m.select(".domain").remove(); m.selectAll("line").attr("stroke","#000").attr("stroke-width",2.2);
  const ax = g.append("g").attr("transform",`translate(0,${p.yb})`)
    .call(d3.axisBottom(x).tickValues(p.major).tickSize(p.majT).tickSizeOuter(0).tickPadding(p.xpad));
  styleAxis(ax, 3, p.fs, p.fw);
  const ay = g.append("g").attr("transform",`translate(${p.x0},0)`)
    .call(d3.axisLeft(y).tickValues(survPctTicks).tickSize(p.yT).tickSizeOuter(0).tickPadding(p.ypad));
  styleAxis(ay, 3, p.fs, p.fw);
  const line = d3.line().curve(d3.curveStepAfter).x(d=>x(d[0])).y(d=>y(d[1]));
  p.curves.forEach(c=>{
    g.append("path").attr("d",line(c.d)).attr("fill","none").attr("stroke",c.color)
      .attr("stroke-width",3).attr("stroke-dasharray",c.dash||null);
    if(p.markers){
      g.selectAll(null).data(c.d.slice(1)).join("rect")
        .attr("x",d=>x(d[0])-3.5).attr("y",d=>y(d[1])-3.5).attr("width",7).attr("height",7).attr("fill",c.color);
    }
  });
  txt((p.x0+p.x1)/2, p.xtY, p.xtitle, {fs:25, anchor:"middle"});
  yTitle(p.ytX, (p.yt+p.yb)/2, "Probability of Survival", 25);
  if(p.title) txt((p.x0+p.x1)/2, p.titleY, p.title, {fs:24, fw:"bold", anchor:"middle"});
}
function legend(items, x0, x1, tx, ys, fs, mark){
  items.forEach((it,i)=>{
    const y = ys[i];
    svg.append("line").attr("x1",x0).attr("x2",x1).attr("y1",y).attr("y2",y).attr("stroke",it.color)
      .attr("stroke-width",3).attr("stroke-dasharray",it.dash||null);
    if(mark==="tick" && it.tick) svg.append("line").attr("x1",(x0+x1)/2).attr("x2",(x0+x1)/2).attr("y1",y-7).attr("y2",y).attr("stroke",it.color).attr("stroke-width",3);
    if(mark==="square") svg.append("rect").attr("x",(x0+x1)/2-3.5).attr("y",y-3.5).attr("width",7).attr("height",7).attr("fill",it.color);
    txt(tx, y, it.label, {fs:fs, db:"central"});
  });
}
function vbar(x,y1,y2){ svg.append("line").attr("x1",x).attr("x2",x).attr("y1",y1).attr("y2",y2).attr("stroke","#000").attr("stroke-width",2.2); }
function rotStars(x,y,s,fs){ svg.append("text").attr("transform",`translate(${x},${y}) rotate(90)`).attr("text-anchor","middle").attr("dy","0.35em").attr("font-size",fs).text(s); }

// panel c
survival({x0:1264,x1:1667,yt:47,yb:313,xmax:125,major:survDayTicksLong,minor:range(0,125,2.5),minT:7,majT:11,xpad:9,
  yT:10,ypad:4,fs:19,fw:"normal",xtY:382,xtitle:"Days Post Tumor Implantation",ytX:1195,
  curves:[{d:cTA,color:COL.ta,dash:"8,5"},{d:cUN,color:COL.un},{d:cCAR,color:COL.car},{d:cPDZ,color:COL.pdz},{d:cCD,color:COL.cd}]});
legend([{label:"Tumor Alone",color:COL.ta,dash:"6,5"},{label:"UN",color:COL.un,tick:1},{label:"CARΔ",color:COL.cd,tick:1},
  {label:"CAR",color:COL.car,tick:1},{label:"CAR PDZ",color:COL.pdz,tick:1}],1264,1293,1309,[441,465,489,513,536],18.5,"tick");
vbar(1367,491,511); txt(1375,500,"ns",{fs:18,db:"central"});
vbar(1406,491,535); txt(1414,521,"*",{fs:26,db:"central"});

// panel f
survival({x0:1262,x1:1659,yt:764,yb:1028,xmax:125,major:survDayTicksLong,minor:range(0,125,2.5),minT:7,majT:11,xpad:7,
  yT:10,ypad:4,fs:19,fw:"normal",xtY:1098,xtitle:"Days post tumor implantation",ytX:1192,
  curves:[{d:fTA,color:COL.ta,dash:"8,5"},{d:fUN,color:COL.un},{d:fCAR,color:COL.car},{d:fPDZ,color:COL.pdz},{d:fCD,color:COL.cd}]});
legend([{label:"Tumor Alone",color:COL.ta,dash:"6,5"},{label:"UN",color:COL.un},{label:"CAR Δ",color:COL.cd,tick:1},
  {label:"CAR",color:COL.car,tick:1},{label:"CAR PDZ",color:COL.pdz,tick:1}],1262,1290,1307,[1118,1141,1164,1187,1208],18.5,"tick");
vbar(1368,1166,1187); txt(1373,1172,"ns",{fs:18,db:"central"});
vbar(1399,1182,1208); txt(1403,1201,"*",{fs:20,db:"central"});
vbar(1417,1161,1208); rotStars(1427,1182,"**",20);

// panel i
survival({x0:1257,x1:1648,yt:1401,yb:1661,xmax:45,major:survDayTicksShort,minor:range(0,45,0.5),minT:5,majT:10,xpad:9,
  yT:8,ypad:4,fs:19,fw:"bold",xtY:1717,xtitle:"Days Post Tumor Implantation",ytX:1188,title:"EphA2 CARs",titleY:1390,markers:true,
  curves:[{d:iTA,color:COL.ta,dash:"6,4"},{d:iUN,color:COL.un},{d:iCAR,color:COL.car},{d:iPDZ,color:COL.pdz},{d:iCD,color:COL.cd}]});
legend([{label:"Tumor Alone",color:COL.ta,dash:"6,5"},{label:"UN",color:COL.un},{label:"CAR Δ",color:COL.cd},
  {label:"CAR",color:COL.car},{label:"CAR PDZ",color:COL.pdz}],1264,1292,1308,[1539,1566,1592,1619,1646],20.5,"square");
vbar(1372,1593,1618); txt(1377,1604,"ns",{fs:17,db:"central"});
vbar(1405,1622,1648); rotStars(1413,1635,"**",19);
vbar(1422,1595,1648); txt(1426,1626,"*",{fs:21,db:"central"});

// panel j
survival({x0:1257,x1:1650,yt:1777,yb:2037,xmax:45,major:survDayTicksShort,minor:range(0,45,0.5),minT:5,majT:10,xpad:9,
  yT:8,ypad:4,fs:19,fw:"bold",xtY:2096,xtitle:"Days Post Tumor Implantation",ytX:1188,title:"B7-H3 CARs",titleY:1765,markers:true,
  curves:[{d:jTA,color:COL.ta,dash:"6,4"},{d:jUN,color:COL.un},{d:jCAR,color:COL.car},{d:jPDZ,color:COL.pdz},{d:jCD,color:COL.cd}]});
legend([{label:"Tumor Alone",color:COL.ta,dash:"6,5"},{label:"UN",color:COL.un},{label:"CAR Δ",color:COL.cd},
  {label:"CAR",color:COL.car},{label:"CAR PDZ",color:COL.pdz}],1268,1296,1312,[1912,1939,1966,1992,2019],20.5,"square");
vbar(1381,1965,1985); txt(1384,1972,"ns",{fs:17,db:"central"});
vbar(1407,1987,2010); rotStars(1416,1998,"**",19);
vbar(1424,1963,2010); rotStars(1433,1985,"**",19);

// ---------- schematics a, d, g ----------
function arrowDown(x,y1,y2){
  svg.append("line").attr("x1",x).attr("x2",x).attr("y1",y1).attr("y2",y2-14).attr("stroke","#000").attr("stroke-width",3.5);
  svg.append("path").attr("d",`M${x-8},${y2-17} L${x+8},${y2-17} L${x},${y2} Z`).attr("fill","#000");
}
function arrowRight(x1,x2,y){
  svg.append("line").attr("x1",x1).attr("x2",x2-14).attr("y1",y).attr("y2",y).attr("stroke","#000").attr("stroke-width",4);
  svg.append("path").attr("d",`M${x2-17},${y-8} L${x2-17},${y+8} L${x2},${y} Z`).attr("fill","#000");
}
function schematic(s){
  txt(s.cx, s.nameY, s.name, {fs:38, anchor:"middle"});
  txt(s.tx, s.tY, s.tumor, {fs:25.5});
  txt(s.nx, s.nY, s.nk, {fs:25.5});
  arrowDown(s.a1, s.tY+6, s.lineY-4);
  arrowDown(s.a2, s.nY+3, s.lineY-4);
  arrowRight(s.lx1, s.lx2, s.lineY);
  txt(s.a1, s.labY, "0", {fs:25, anchor:"middle"});
  txt(s.a2, s.labY, s.day, {fs:25, anchor:"middle"});
  txt(s.dayX, s.dayY, "Day", {fs:25});
}
schematic({name:"A549",cx:130,nameY:175,tumor:"Tumor Implant s.c.",tx:47,tY:220,nk:"NK Cell i.v.",nx:100,nY:255,
  a1:53,a2:104,lineY:297,lx1:49,lx2:166,labY:331,day:"14",dayX:52,dayY:368});
schematic({name:"LM7",cx:125,nameY:877,tumor:"Tumor Implant i.p.",tx:37,tY:915,nk:"NK Cell i.p.",nx:91,nY:948,
  a1:44,a2:94,lineY:991,lx1:37,lx2:136,labY:1026,day:"7",dayX:47,dayY:1054});
schematic({name:"143b",cx:113,nameY:1489,tumor:"Tumor Implant s.c.",tx:29,tY:1534,nk:"NK Cell i.v.",nx:83,nY:1567,
  a1:36,a2:87,lineY:1610,lx1:29,lx2:149,labY:1647,day:"5",dayX:33,dayY:1684});

// ---------- panel letters ----------
const letters = [["a",2,33],["b",273,33],["c",1163,33],["d",2,711],["e",280,711],["f",1163,711],
                 ["g",2,1374],["h",280,1374],["i",1163,1374],["j",1163,1768]];
letters.forEach(l=>txt(l[1],l[2],l[0],{fs:35,fw:"bold"}));
</script>
</body></html>
